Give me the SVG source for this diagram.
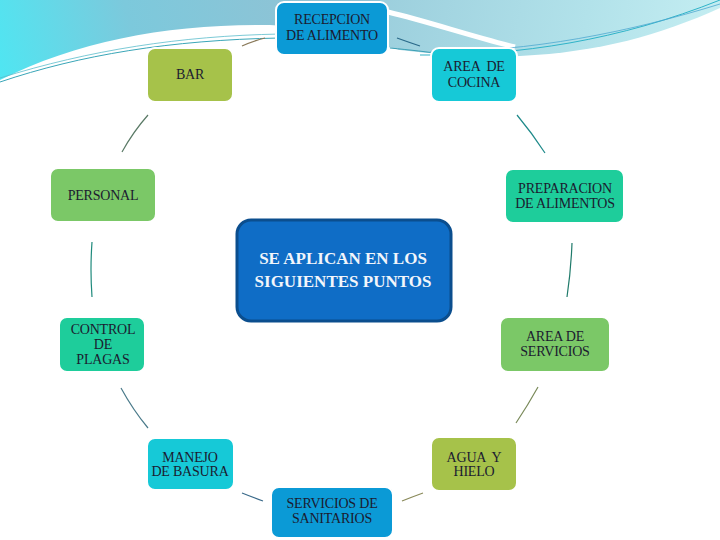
<svg xmlns="http://www.w3.org/2000/svg" width="720" height="540" viewBox="0 0 720 540">
<defs>
<linearGradient id="skyL" x1="0" y1="80" x2="300" y2="0" gradientUnits="userSpaceOnUse">
<stop offset="0" stop-color="#4fe6f2"/>
<stop offset="0.45" stop-color="#7cc9dc"/>
<stop offset="1" stop-color="#8fc3d5"/>
</linearGradient>
<linearGradient id="skyR" x1="380" y1="0" x2="720" y2="60" gradientUnits="userSpaceOnUse">
<stop offset="0" stop-color="#9ccfdd"/>
<stop offset="0.6" stop-color="#b2e2ea"/>
<stop offset="1" stop-color="#c5eef2"/>
</linearGradient>
<style>
.n{stroke:#ffffff;stroke-width:2}
.t{font-family:"Liberation Serif","DejaVu Serif",serif;font-size:14px;fill:#1b1b30;text-anchor:middle;white-space:pre;letter-spacing:-0.2px}
.w{font-family:"Liberation Serif","DejaVu Serif",serif;font-size:17px;font-weight:bold;fill:#f2f6fb;text-anchor:middle}
.c{fill:none;stroke-width:1.2}
</style>
</defs>
<rect width="720" height="540" fill="#ffffff"/>
<g id="background">
<path d="M0,0 H400 V50 C370,38 330,28 270,25 C170,24 80,40 0,80 Z" fill="url(#skyL)"/>
<path d="M380,0 H720 V8 C660,35 600,52 520,56 C480,57 440,55 400,50 L380,45 Z" fill="url(#skyR)"/>
<path d="M388,12 C430,22 470,36 515,47" fill="none" stroke="#ffffff" stroke-width="5"/>
<path d="M0,82 C80,55 170,40 280,38" fill="none" stroke="#3aa6b8" stroke-width="1"/>
<path d="M0,78 C90,50 180,36 280,34" fill="none" stroke="#5bbccb" stroke-width="0.8"/>
<path d="M420,55 C520,56 620,40 720,0" fill="none" stroke="#2fb3c8" stroke-width="1"/>
<path d="M430,52 C530,52 630,32 720,4" fill="none" stroke="#4ea8d0" stroke-width="0.8"/>
<path d="M390,48 C410,50 430,52 440,54" fill="none" stroke="#3a9fb5" stroke-width="1"/>
</g>
<g id="connectors">
<path class="c" d="M148,115 Q133,132 122,152" stroke="#5a7a66"/>
<path class="c" d="M92,242 Q90,270 92,297" stroke="#1f8a7c"/>
<path class="c" d="M121,388 Q133,410 148,428" stroke="#4a7a8a"/>
<path class="c" d="M242,493 Q252,497 263,501" stroke="#3a6a8a"/>
<path class="c" d="M402,501 Q412,497 423,493" stroke="#8a8a5a"/>
<path class="c" d="M538,387 Q528,405 516,423" stroke="#7a8a5a"/>
<path class="c" d="M572,243 Q571,270 567,297" stroke="#1f7a6a"/>
<path class="c" d="M517,115 Q532,133 545,153" stroke="#1f8a8a"/>
<path class="c" d="M242,46 Q253,41 265,38" stroke="#8a7a5a"/>
<path class="c" d="M397,38 Q408,42 420,46" stroke="#2a6a8a"/>
</g>
<g id="recepcion">
<rect class="n" x="276" y="2" width="112" height="53" rx="8" fill="#0b9ad6"/>
<text class="t" x="332" y="24">RECEPCION</text>
<text class="t" x="332" y="40">DE ALIMENTO</text>
</g>
<g id="bar">
<rect class="n" x="147" y="48" width="86" height="54" rx="8" fill="#a6c24a"/>
<text class="t" x="190" y="79">BAR</text>
</g>
<g id="cocina">
<rect class="n" x="431" y="48" width="86" height="54" rx="8" fill="#16c9d7"/>
<text class="t" x="474" y="71">AREA  DE</text>
<text class="t" x="474" y="87">COCINA</text>
</g>
<g id="personal">
<rect class="n" x="50" y="168" width="106" height="54" rx="8" fill="#7bc867"/>
<text class="t" x="103" y="200">PERSONAL</text>
</g>
<g id="preparacion">
<rect class="n" x="505" y="169" width="119" height="54" rx="8" fill="#1ecd9b"/>
<text class="t" x="565" y="193">PREPARACION</text>
<text class="t" x="565" y="208">DE ALIMENTOS</text>
</g>
<g id="centro">
<rect x="237" y="220" width="214" height="101" rx="14" fill="#0f6dc6" stroke="#0b4e8e" stroke-width="3"/>
<text class="w" x="343" y="264">SE APLICAN EN LOS</text>
<text class="w" x="343" y="287">SIGUIENTES PUNTOS</text>
</g>
<g id="control">
<rect class="n" x="59" y="317" width="86" height="55" rx="8" fill="#1ecd9b"/>
<text class="t" x="103" y="334">CONTROL</text>
<text class="t" x="103" y="349">DE</text>
<text class="t" x="103" y="364">PLAGAS</text>
</g>
<g id="servicios">
<rect class="n" x="500" y="317" width="110" height="55" rx="8" fill="#7bc867"/>
<text class="t" x="555" y="341">AREA DE</text>
<text class="t" x="555" y="356">SERVICIOS</text>
</g>
<g id="manejo">
<rect class="n" x="147" y="438" width="87" height="52" rx="8" fill="#16c9d7"/>
<text class="t" x="190" y="462">MANEJO</text>
<text class="t" x="190" y="476">DE BASURA</text>
</g>
<g id="agua">
<rect class="n" x="431" y="437" width="86" height="54" rx="8" fill="#a6c24a"/>
<text class="t" x="474" y="462">AGUA  Y</text>
<text class="t" x="474" y="476">HIELO</text>
</g>
<g id="sanitarios">
<rect class="n" x="271" y="487" width="122" height="51" rx="8" fill="#0b9ad6"/>
<text class="t" x="332" y="508">SERVICIOS DE</text>
<text class="t" x="332" y="523">SANITARIOS</text>
</g>
</svg>
